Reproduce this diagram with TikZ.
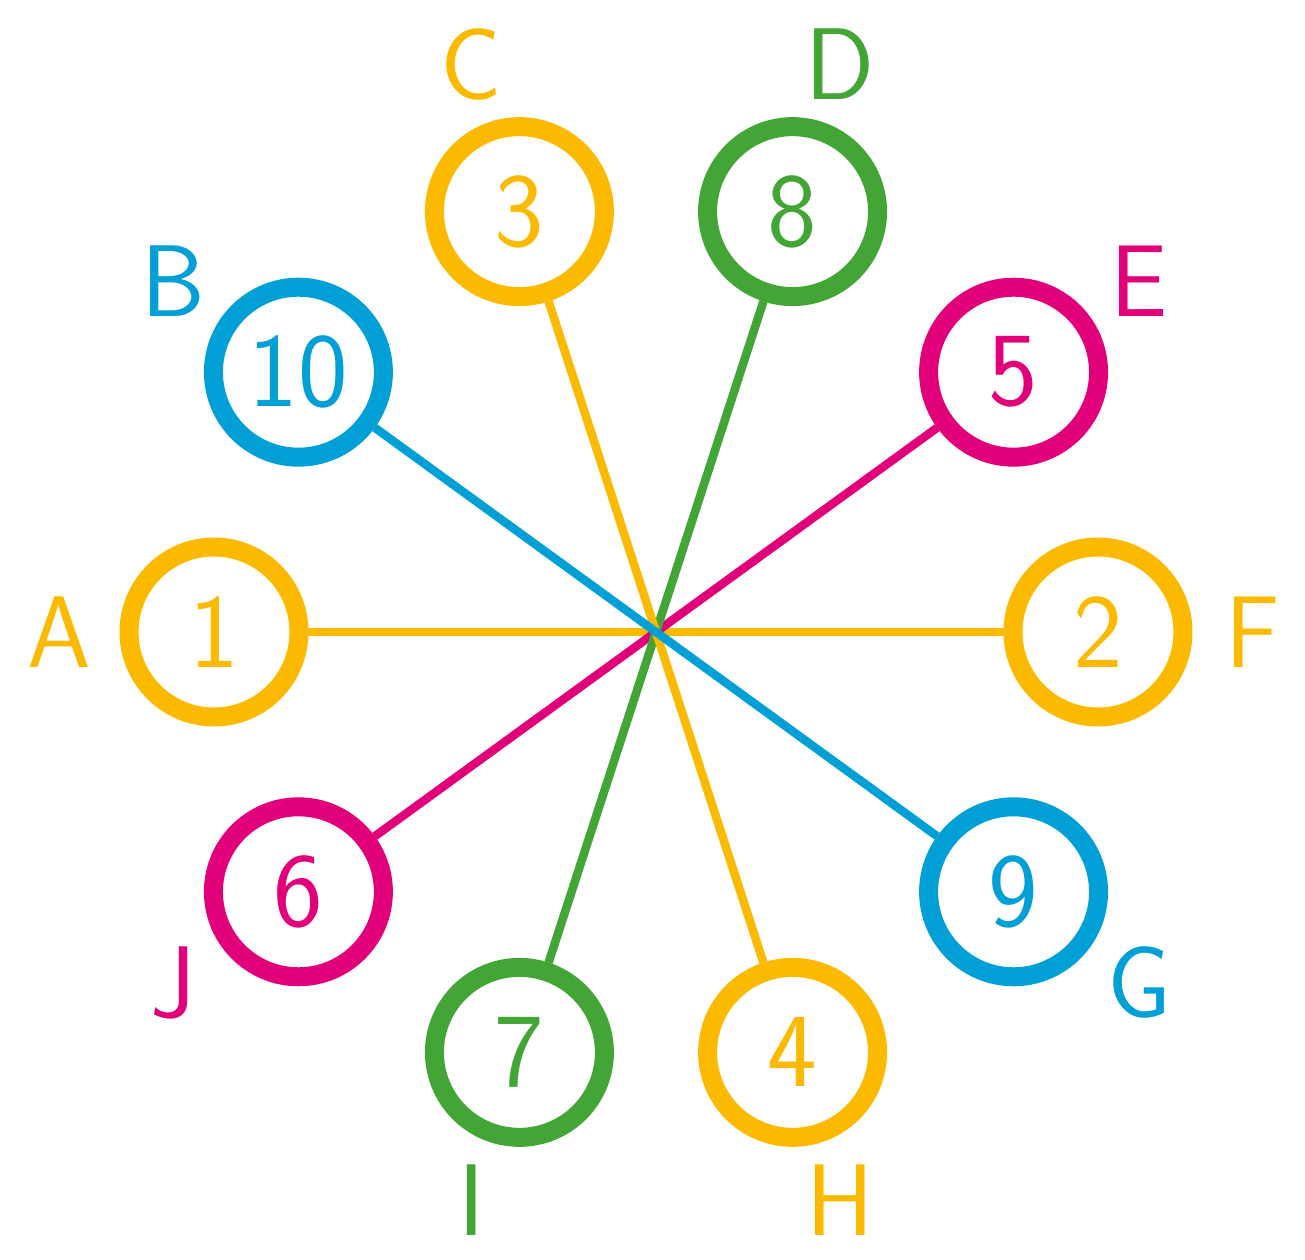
\documentclass[tikz,border=0pt]{standalone}
\usepackage{xcolor}
\definecolor{sunny}{HTML}{FBBA00}
\definecolor{sky}{HTML}{009FD6}
\definecolor{leaf}{HTML}{43A535}
\definecolor{berry}{HTML}{E2007A}
\usepackage{tikz}
\usetikzlibrary{calc}

\begin{document}
\begin{tikzpicture}[x=0.02cm, y=0.02cm,
    every node/.style={font=\sffamily},
    ring/.style={circle, draw=#1, text=#1, line width=0.38cm, minimum size=3.4cm,
                 inner sep=0pt, font=\fontsize{60}{60}\selectfont\sffamily},
    tag/.style={text=#1, inner sep=0pt, font=\fontsize{58}{58}\selectfont\sffamily},
    spoke/.style={draw=#1, line width=0.17cm}]
  \useasboundingbox (-656,-628) rectangle (649,632);
  % rings round the hub
  \foreach \ang/\num/\lbl/\col in {0/2/F/sunny, 36/5/E/berry, 72/8/D/leaf, 108/3/C/sunny,
      144/10/B/sky, 180/1/A/sunny, 216/6/J/berry, 252/7/I/leaf, 288/4/H/sunny, 324/9/G/sky}{
    \node[ring=\col] (n\num) at (\ang:442) {\num};
    \node[tag=\col] (l\lbl) at (\ang:597) {\lbl};
  }
  % spokes
  \draw[spoke=sunny] (n1) -- (n2);
  \draw[spoke=berry] (n5) -- (n6);
  \draw[spoke=leaf] (n8) -- (n7);
  \draw[spoke=sunny] (n3) -- (n4);
  \draw[spoke=sky] (n10) -- (n9);
\end{tikzpicture}
\end{document}
